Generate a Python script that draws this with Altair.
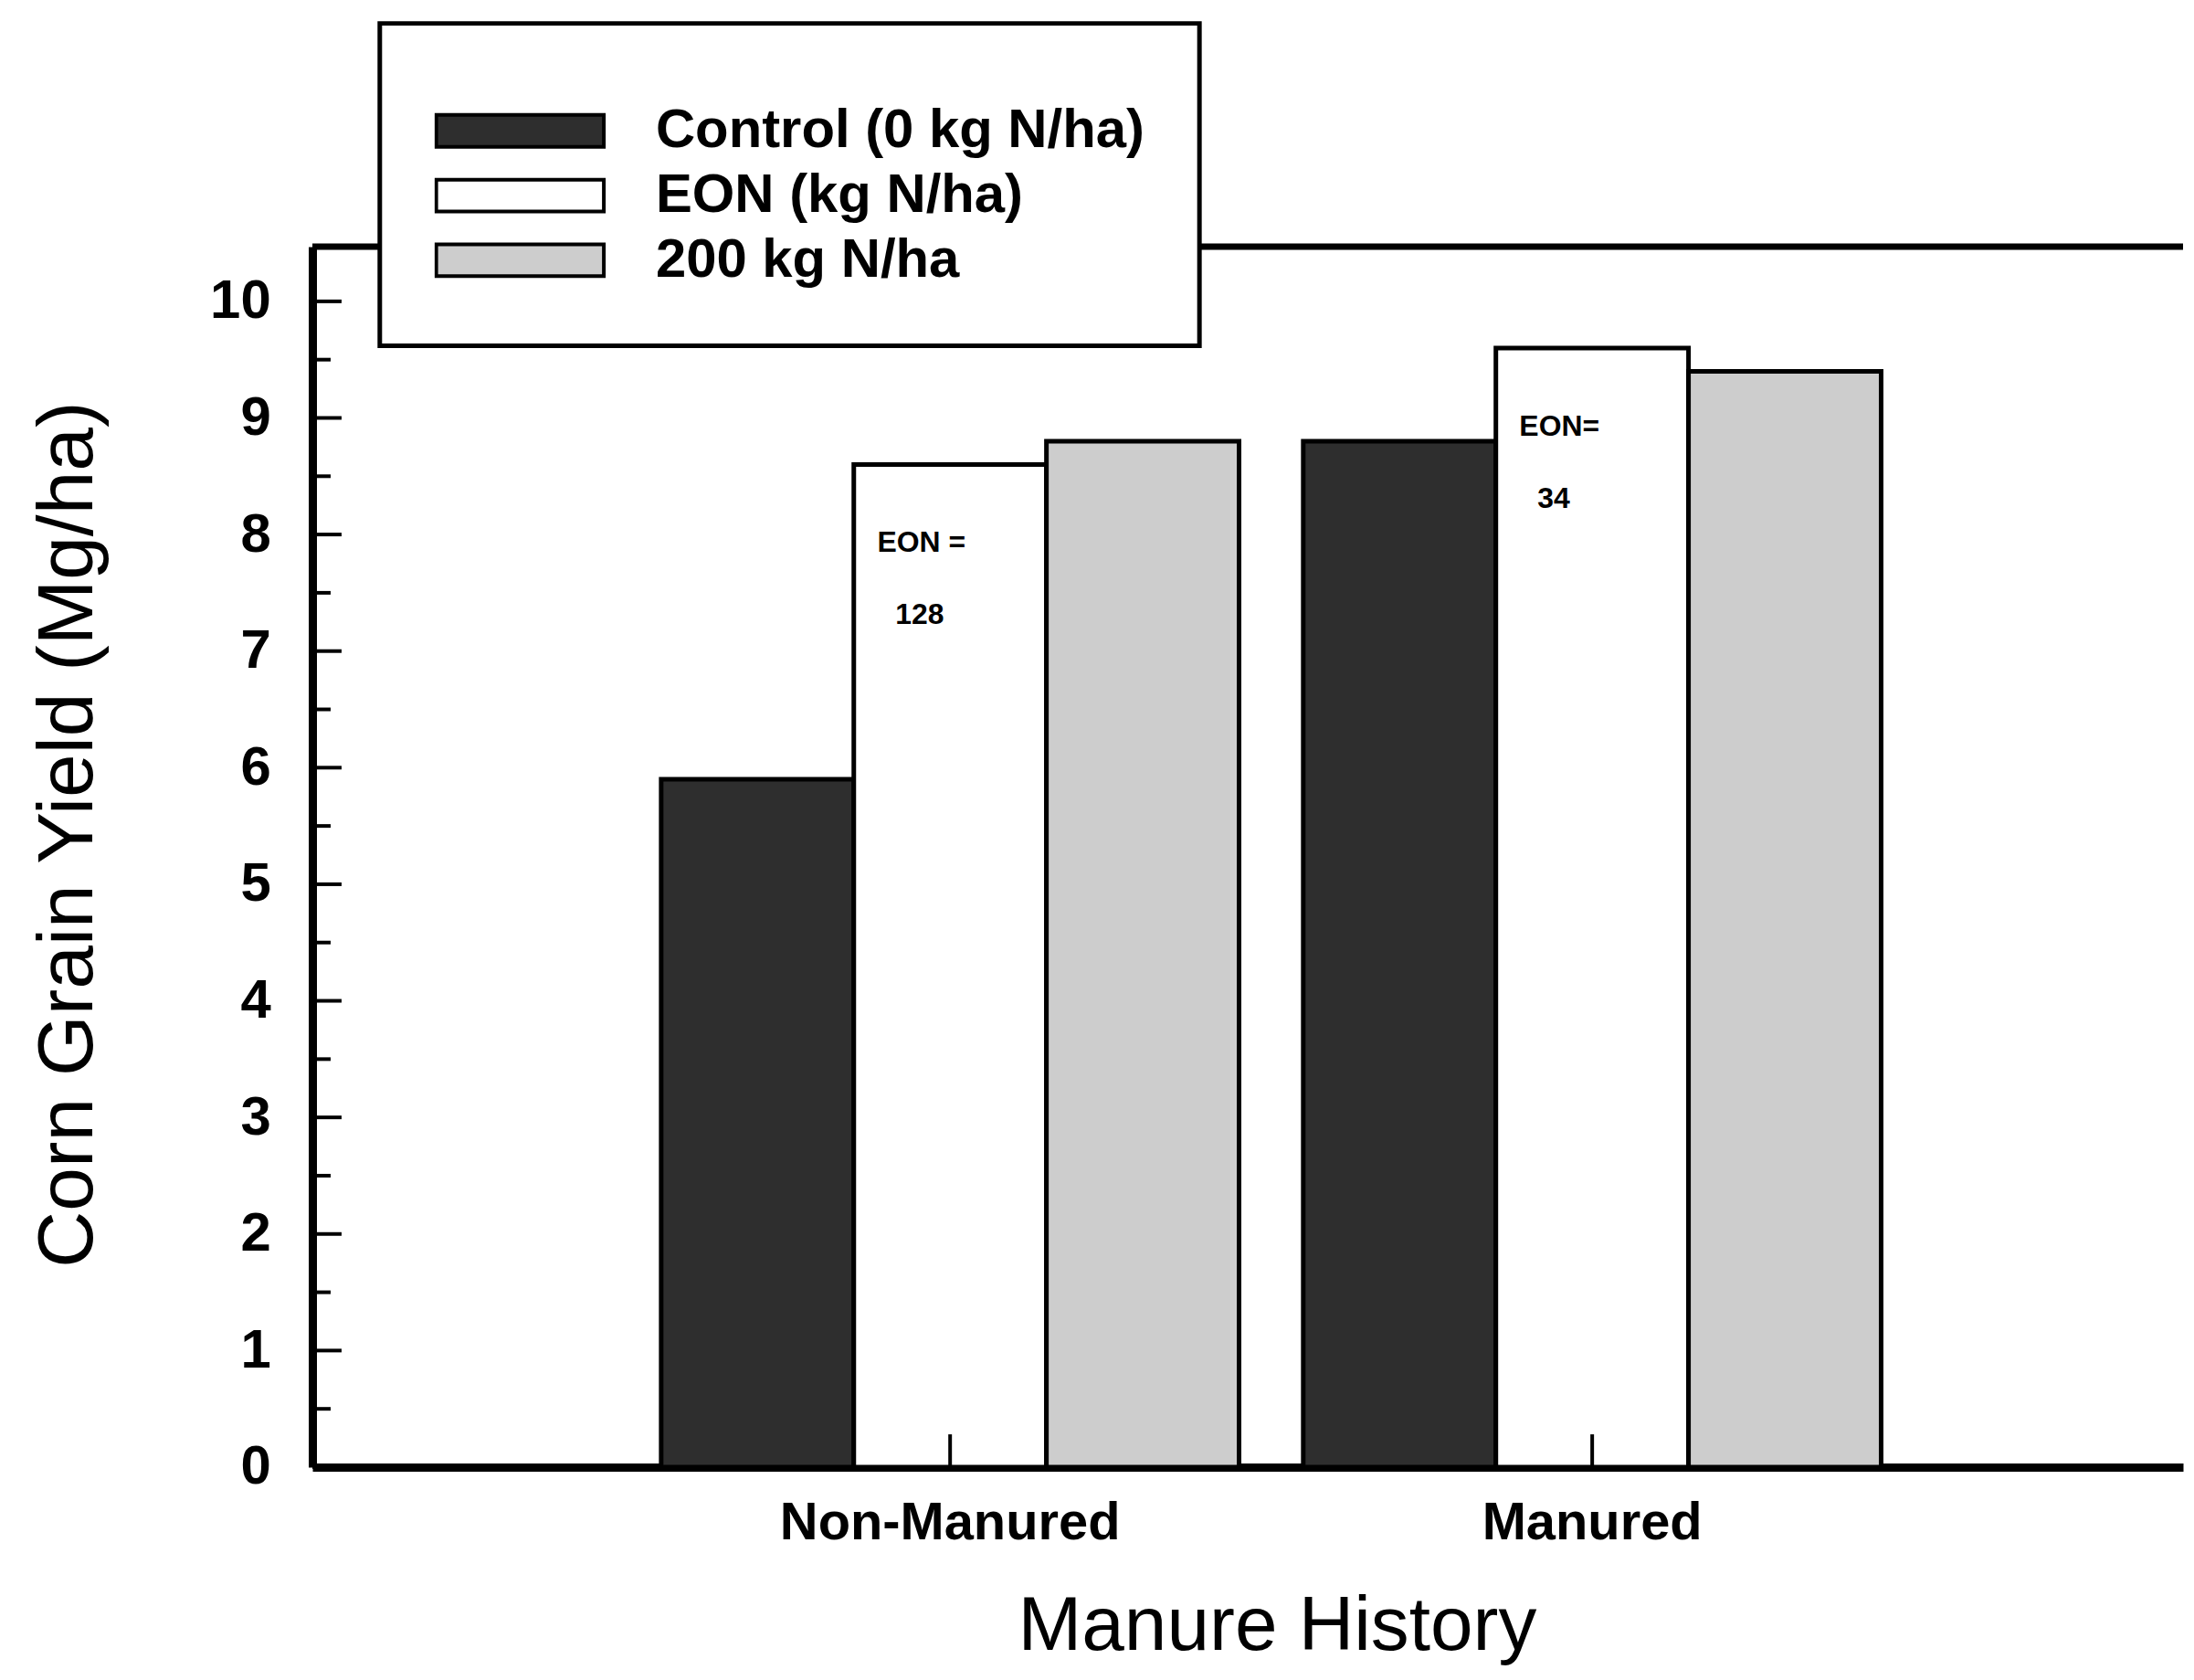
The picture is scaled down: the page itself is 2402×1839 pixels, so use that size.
import altair as alt
import pandas as pd

# ---------------- data ----------------
groups = ["Non-Manured", "Manured"]
treatments = ["Control (0 kg N/ha)", "EON (kg N/ha)", "200 kg N/ha"]
control_yield = [5.9, 8.8]
eon_yield = [8.6, 9.6]
n200_yield = [8.8, 9.4]
eon_prefix = ["EON =", "EON="]
eon_rate = ["128", "34"]
y_ticks_major = [0, 1, 2, 3, 4, 5, 6, 7, 8, 9, 10]
y_ticks_minor = [0.5, 1.5, 2.5, 3.5, 4.5, 5.5, 6.5, 7.5, 8.5, 9.5]

fills = ["#2e2e2e", "#ffffff", "#cdcdcd"]
FONT = "Liberation Sans"
W, H = 2054, 1340

rows = []
for gi, g in enumerate(groups):
    for t, vals in zip(treatments, [control_yield, eon_yield, n200_yield]):
        rows.append({"history": g, "treatment": t, "yield": vals[gi]})
bars_df = pd.DataFrame(rows)
ann_df = pd.DataFrame({
    "history": groups,
    "treatment": [treatments[1]] * len(groups),
    "yield": eon_yield,
    "line1": eon_prefix,
    "line2": eon_rate,
})

yscale = alt.Scale(domain=[0, 10.47], nice=False, zero=False)
xscale = alt.Scale(paddingInner=0.1, paddingOuter=0.5067, align=0.536)

x_axis = alt.Axis(
    title="Manure History", labelAngle=0, labelFont=FONT, labelFontSize=58,
    labelFontWeight="bold", labelColor="black", labelPadding=33, labelLimit=1000,
    ticks=False, tickSize=0, domainWidth=9, domainColor="black", grid=False,
    titleFont=FONT, titleFontSize=84, titleFontWeight="normal", titleColor="black",
    titleX=1059, titleY=200, titleBaseline="alphabetic", titleAlign="center",
)
y_axis = alt.Axis(
    title="Corn Grain Yield (Mg/ha)", values=y_ticks_major, format="d",
    labelFont=FONT, labelFontSize=60, labelFontWeight="bold", labelColor="black",
    labelPadding=46, ticks=False, tickSize=0, grid=False,
    domainWidth=9, domainColor="black",
    titleFont=FONT, titleFontSize=86, titleFontWeight="normal", titleColor="black",
    titleAngle=-90, titleX=-242, titleY=645, titleBaseline="alphabetic",
    titleAlign="center",
)


def xenc():
    return alt.X("history:N", sort=groups, scale=xscale, axis=x_axis)


def yenc(field):
    return alt.Y(field, scale=yscale, axis=y_axis)


xoff = alt.XOffset("treatment:N", sort=treatments,
                   scale=alt.Scale(paddingInner=0, paddingOuter=0))

bars = alt.Chart(bars_df).mark_bar(stroke="black", strokeWidth=5, opacity=1).encode(
    x=xenc(),
    xOffset=xoff,
    y=yenc("yield:Q"),
    color=alt.Color(
        "treatment:N", sort=treatments,
        scale=alt.Scale(domain=treatments, range=fills),
        legend=alt.Legend(
            title=" ", titleFontSize=24, titlePadding=0,
            orient="none", legendX=74, legendY=-245, direction="vertical",
            symbolType="M-1,-0.19H1V0.19H-1Z", symbolSize=33856,
            symbolStrokeColor="black", symbolStrokeWidth=4, symbolOpacity=1,
            labelFont=FONT, labelFontSize=60, labelFontWeight="bold", labelColor="black",
            labelOffset=55, labelLimit=1500, clipHeight=68, rowPadding=3,
            padding=60, fillColor="white", strokeColor="black",
        ),
    ),
)

ann1 = alt.Chart(ann_df).transform_calculate(yield_="datum.yield - 0.75").mark_text(
    align="left", baseline="alphabetic", dx=-80, font=FONT, fontSize=32,
    fontWeight="bold", color="black",
).encode(
    x=xenc(),
    xOffset=xoff,
    y=yenc("yield_:Q"),
    text="line1:N",
)
ann2 = alt.Chart(ann_df).transform_calculate(yield_="datum.yield - 1.37").mark_text(
    align="left", baseline="alphabetic", dx=-60, font=FONT, fontSize=32,
    fontWeight="bold", color="black",
).encode(
    x=xenc(),
    xOffset=xoff,
    y=yenc("yield_:Q"),
    text="line2:N",
)

major = alt.Chart(pd.DataFrame({"v": y_ticks_major})).mark_rule(
    color="black", strokeWidth=4
).encode(y=yenc("v:Q"), x=alt.value(0), x2=alt.value(32))
minor = alt.Chart(pd.DataFrame({"v": y_ticks_minor})).mark_rule(
    color="black", strokeWidth=4
).encode(y=yenc("v:Q"), x=alt.value(0), x2=alt.value(20))
xticks = alt.Chart(pd.DataFrame({"history": groups})).mark_rule(
    color="black", strokeWidth=4
).encode(x=xenc(), y=alt.value(H), y2=alt.value(H - 36))
topline = alt.Chart(pd.DataFrame({"a": [0]})).mark_rule(
    color="black", strokeWidth=7
).encode(x=alt.value(0), x2=alt.value(W), y=alt.value(0))

chart = alt.layer(bars, ann1, ann2, major, minor, xticks, topline).properties(
    width=W, height=H,
    padding={"left": 24, "top": 12, "right": 0, "bottom": 5},
    background="white",
).configure_view(stroke="transparent").configure_legend(strokeWidth=5)

chart.save("out.html", embed_options={"renderer": "svg", "actions": False})
